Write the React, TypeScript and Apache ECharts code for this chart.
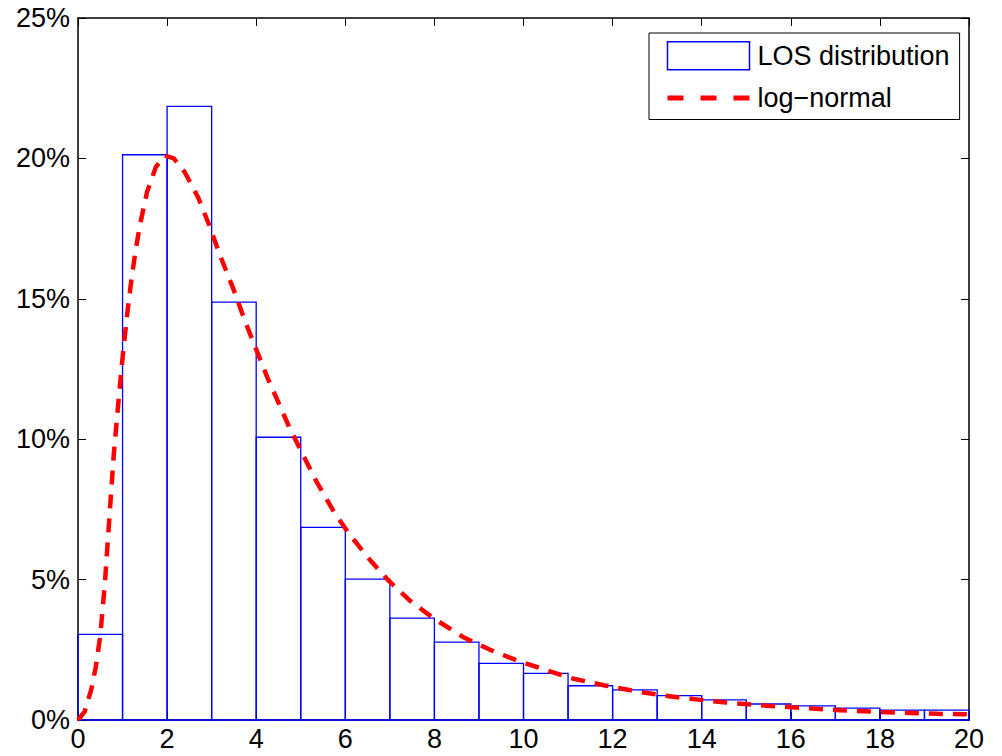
import React, { useEffect, useRef } from "react";
import * as echarts from "echarts";

// Histogram bins: left edges (days) and heights (% of patients)
const binStarts = [0, 1, 2, 3, 4, 5, 6, 7, 8, 9, 10, 11, 12, 13, 14, 15, 16, 17, 18, 19];
const binWidth = 1;
const losPercent = [3.05, 20.13, 21.85, 14.88, 10.07, 6.86, 5.02, 3.63, 2.77, 2.02, 1.66, 1.22, 1.07, 0.87, 0.72, 0.57, 0.5, 0.42, 0.35, 0.35];

// Fitted log-normal curve
const curveX = [0, 0.15, 0.3, 0.4, 0.5, 0.6, 0.7, 0.8, 0.9, 1.0, 1.1, 1.2, 1.3, 1.4, 1.55, 1.75, 1.95, 2.15, 2.4, 2.7, 2.95, 3.2, 3.5, 3.75, 4.0, 4.25, 4.5, 4.75, 5.0, 5.35, 5.75, 6.1, 6.5, 6.95, 7.45, 8.0, 8.65, 9.25, 9.85, 10.5, 11.1, 11.8, 12.5, 13.15, 13.85, 14.55, 15.45, 16.35, 17.1, 17.8, 18.55, 19.3, 20];
const curveY = [0, 0.3, 1.1, 1.9, 3.0, 4.8, 7.1, 9.4, 11.2, 12.9, 14.4, 15.7, 16.8, 17.7, 18.8, 19.7, 20.1, 20.0, 19.5, 18.6, 17.6, 16.5, 15.3, 14.2, 13.2, 12.2, 11.3, 10.4, 9.6, 8.5, 7.4, 6.6, 5.8, 5.0, 4.25, 3.6, 2.95, 2.5, 2.12, 1.78, 1.48, 1.24, 1.03, 0.87, 0.74, 0.62, 0.51, 0.42, 0.35, 0.3, 0.26, 0.22, 0.2];

const xTicks = { min: 0, max: 20, interval: 2 };
const yTicks = { min: 0, max: 25, interval: 5 };

const seriesNames = ["LOS distribution", "log\u2212normal"];

const FONT = "'Liberation Sans', Arial, Helvetica, sans-serif";

export default function App() {
  const ref = useRef<HTMLDivElement>(null);
  useEffect(() => {
    if (!ref.current) return;
    const chart = echarts.init(ref.current, null, { renderer: "svg" });
    const axisLine = { show: true, onZero: false, lineStyle: { color: "#000", width: 1.5 } };
    const tick = { show: true, inside: true, length: 8, lineStyle: { color: "#000", width: 1 } };
    const label = { color: "#000", fontSize: 27, fontFamily: FONT };
    chart.setOption({
      animation: false,
      backgroundColor: "#fff",
      grid: { left: 78, right: 33, top: 18, bottom: 36, containLabel: false },
      xAxis: [
        {
          type: "value", position: "bottom", ...xTicks,
          axisLine, axisTick: tick, splitLine: { show: false },
          axisLabel: { ...label, margin: 5 },
        },
        {
          type: "value", position: "top", ...xTicks,
          axisLine, axisTick: tick, splitLine: { show: false },
          axisLabel: { show: false },
        },
      ],
      yAxis: [
        {
          type: "value", position: "left", ...yTicks,
          axisLine, axisTick: tick, splitLine: { show: false },
          axisLabel: { ...label, margin: 8, formatter: "{value}%" },
        },
        {
          type: "value", position: "right", ...yTicks,
          axisLine, axisTick: tick, splitLine: { show: false },
          axisLabel: { show: false },
        },
      ],
      legend: {
        orient: "vertical",
        left: 649,
        top: 33,
        padding: [8, 10, 8, 16],
        itemWidth: 82,
        itemHeight: 28,
        itemGap: 14,
        borderColor: "#000",
        borderWidth: 1,
        backgroundColor: "#fff",
        textStyle: { color: "#000", fontSize: 27, fontFamily: FONT, padding: [0, 0, 0, 3] },
        data: [
          { name: seriesNames[0], icon: "rect", itemStyle: { color: "#fff", borderColor: "#0000ff", borderWidth: 1.5 } },
          {
            name: seriesNames[1],
            itemStyle: { color: "rgba(0,0,0,0)", borderWidth: 0, opacity: 0 },
            lineStyle: { color: "#ff0000", width: 5, type: [16, 17], opacity: 1 },
          },
        ],
      },
      series: [
        {
          name: seriesNames[0],
          type: "custom",
          xAxisIndex: 0,
          yAxisIndex: 0,
          itemStyle: { color: "#fff", borderColor: "#0000ff" },
          data: binStarts.map((s, i) => [s, losPercent[i]]),
          renderItem: (params: any, api: any) => {
            const x0 = api.value(0);
            const h = api.value(1);
            const p0 = api.coord([x0, h]);
            const p1 = api.coord([x0 + binWidth, 0]);
            return {
              type: "rect",
              shape: { x: p0[0], y: p0[1], width: p1[0] - p0[0], height: p1[1] - p0[1] },
              style: { fill: "none", stroke: "#0000ff", lineWidth: 1.3 },
            };
          },
          z: 2,
        },
        {
          name: seriesNames[1],
          type: "line",
          xAxisIndex: 0,
          yAxisIndex: 0,
          symbol: "none",
          smooth: false,
          data: curveX.map((x, i) => [x, curveY[i]]),
          lineStyle: { color: "#ff0000", width: 4.5, type: [14, 10] },
          itemStyle: { color: "#ff0000" },
          z: 3,
        },
      ],
    });
    return () => chart.dispose();
  }, []);
  return (
    <div
      ref={ref}
      style={{ position: "fixed", left: 0, top: 0, width: 1002, height: 756, background: "#fff" }}
    />
  );
}
